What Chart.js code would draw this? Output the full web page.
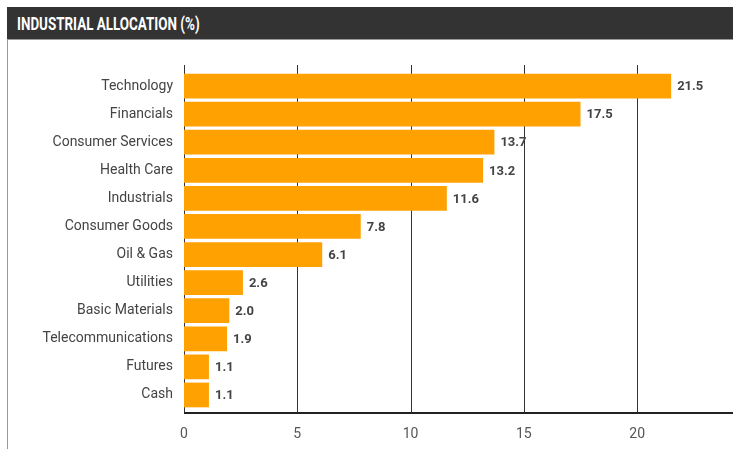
<!DOCTYPE html>
<html lang="en">
<head>
  <meta charset="UTF-8">
  <style>
    html, body { margin: 0; padding: 0; background: #fff; overflow: hidden; }
    .panel {
      position: absolute;
      left: 7px;
      top: 7px;
      width: 726px;
      height: 442px;
    }
    .panel-title {
      height: 32px;
      background: #333333;
      color: #fff;
      font-family: Roboto, "Liberation Sans", sans-serif;
      font-weight: bold;
      font-size: 18px;
      line-height: 33px;
      padding-left: 10px;
      box-sizing: border-box;
      white-space: nowrap;
    }
    .panel-title span {
      display: inline-block;
      transform: scaleX(0.745);
      transform-origin: left center;
    }
    .panel-body {
      position: relative;
      height: 410px;
      border-left: 1px solid #9a9a9a;
      border-top: 1px solid #9a9a9a;
      box-sizing: border-box;
    }
    canvas { position: absolute; left: 0; top: 0; }
  </style>
  <title>Industrial Allocation (%)</title>
</head>
<body>
  <script src="https://cdn.jsdelivr.net/npm/chart.js@4/dist/chart.umd.min.js"></script>
  <div class="panel">
    <div class="panel-title"><span>INDUSTRIAL ALLOCATION (%)</span></div>
    <div class="panel-body">
      <canvas id="chart" width="725" height="409"></canvas>
    </div>
  </div>
  <script>
  const sectors = ['Technology', 'Financials', 'Consumer Services', 'Health Care', 'Industrials',
    'Consumer Goods', 'Oil & Gas', 'Utilities', 'Basic Materials', 'Telecommunications', 'Futures', 'Cash']
  const allocation = [21.5, 17.5, 13.7, 13.2, 11.6, 7.8, 6.1, 2.6, 2.0, 1.9, 1.1, 1.1]
  const xTicks = [0, 5, 10, 15, 20]

  const labelFont = 'Roboto, "Noto Sans", sans-serif'

  // grid lines and axis line drawn a bit taller than the plot area
  const gridPlugin = {
    id: 'gridLines',
    beforeDatasetsDraw(chart) {
      const { ctx, chartArea, scales } = chart
      const top = chartArea.top - 7
      const bottom = chartArea.bottom + 4
      ctx.save()
      ctx.strokeStyle = '#333'
      ctx.lineWidth = 1
      xTicks.forEach(v => {
        const x = Math.round(scales.x.getPixelForValue(v)) + 0.5
        ctx.beginPath()
        ctx.moveTo(x, top)
        ctx.lineTo(x, bottom)
        ctx.stroke()
      })
      ctx.strokeStyle = '#222'
      ctx.lineWidth = 2
      ctx.beginPath()
      ctx.moveTo(scales.x.getPixelForValue(0), bottom)
      ctx.lineTo(chart.width, bottom)
      ctx.stroke()
      ctx.restore()
    }
  }

  const valuePlugin = {
    id: 'valueLabels',
    afterDatasetsDraw(chart) {
      const { ctx } = chart
      const meta = chart.getDatasetMeta(0)
      ctx.save()
      ctx.font = 'bold 13px ' + labelFont
      ctx.fillStyle = '#444'
      ctx.textBaseline = 'middle'
      meta.data.forEach((bar, i) => {
        ctx.fillText(allocation[i].toFixed(1), bar.x + 6, bar.y + 1)
      })
      ctx.restore()
    }
  }

  new Chart(document.getElementById('chart'), {
    type: 'bar',
    data: {
      labels: sectors,
      datasets: [{
        data: allocation,
        backgroundColor: '#FFA100',
        barPercentage: 0.88,
        categoryPercentage: 1.0
      }]
    },
    options: {
      indexAxis: 'y',
      responsive: false,
      animation: false,
      layout: { padding: { top: 32, bottom: 4, left: 0, right: 0 } },
      plugins: {
        legend: { display: false },
        tooltip: { enabled: false }
      },
      scales: {
        x: {
          min: 0,
          max: 24.23,
          grid: { display: false, drawTicks: false },
          border: { display: false },
          afterBuildTicks: (scale) => {
            scale.ticks = xTicks.map(v => ({ value: v }))
          },
          afterFit: (scale) => { scale.height = 36 },
          ticks: {
            padding: 17,
            color: '#555',
            font: { family: labelFont, size: 14 },
            maxRotation: 0
          }
        },
        y: {
          grid: { display: false, drawTicks: false },
          border: { display: false },
          afterFit: (scale) => { scale.width = 176 },
          ticks: {
            padding: 11,
            color: '#444',
            font: { family: labelFont, size: 14 },
            autoSkip: false
          }
        }
      }
    },
    plugins: [gridPlugin, valuePlugin]
  })
  </script>
</body>
</html>
